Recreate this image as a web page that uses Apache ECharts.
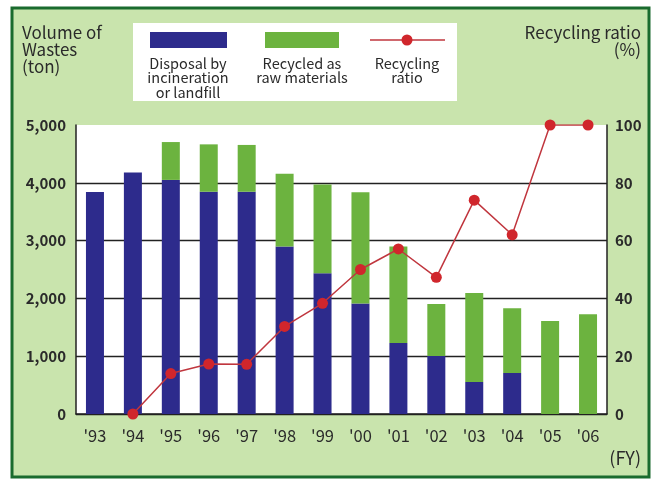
<!DOCTYPE html>
<html><head><meta charset="utf-8">
<script src="https://cdn.jsdelivr.net/npm/echarts@6/dist/echarts.min.js"></script>
<style>html,body{margin:0;padding:0;background:#fff}#c{width:653px;height:479px}</style>
</head><body><div id="c"></div>
<script>
const years = ["'93","'94","'95","'96","'97","'98","'99","'00","'01","'02","'03","'04","'05","'06"];
const disposal = [3840,4180,4050,3845,3845,2900,2435,1910,1230,1005,555,710,0,0];
const recycled = [0,0,655,820,810,1255,1535,1925,1670,900,1540,1120,1610,1725];
const ratio = [null,0,14,17.3,17.2,30.3,38.3,50,57.1,47.3,74,62,100,100];
const leftTicks = [0,1000,2000,3000,4000,5000];
const rightTicks = [0,20,40,60,80,100];
const seriesNames = ['Disposal by\nincineration\nor landfill','Recycled as\nraw materials','Recycling\nratio'];

const BLUE = '#2d2b8c', GREEN = '#6cb33f', RED = '#d0262c', LINE = '#c0363e';
const FONT = "'Noto Sans CJK JP','Noto Sans',sans-serif";
const TXT = '#2a2a2a';

const chart = echarts.init(document.getElementById('c'));
chart.setOption({
  animation: false,
  textStyle: {fontFamily: FONT},
  graphic: [
    {type:'rect', z:-10, shape:{x:12,y:8,width:637,height:469}, style:{fill:'#c9e4ad', stroke:'#1a6b2e', lineWidth:3}},
    {type:'rect', z:-5, shape:{x:133,y:23,width:324,height:78}, style:{fill:'#ffffff'}},
    {type:'rect', shape:{x:150,y:32,width:77,height:16}, style:{fill:BLUE}},
    {type:'rect', shape:{x:265,y:32,width:74,height:16}, style:{fill:GREEN}},
    {type:'line', shape:{x1:370,y1:40,x2:445,y2:40}, style:{stroke:LINE, lineWidth:1.5}},
    {type:'circle', shape:{cx:407,cy:40,r:5.5}, style:{fill:RED}},
    {type:'text', style:{x:188,y:56,text:seriesNames[0],fill:TXT,font:"14.5px "+FONT,textAlign:'center',lineHeight:14.5}},
    {type:'text', style:{x:302,y:56,text:seriesNames[1],fill:TXT,font:"14.5px "+FONT,textAlign:'center',lineHeight:14.5}},
    {type:'text', style:{x:407,y:56,text:seriesNames[2],fill:TXT,font:"14.5px "+FONT,textAlign:'center',lineHeight:14.5}},
    {type:'text', style:{x:22,y:24,text:'Volume of\nWastes\n(ton)',fill:TXT,font:"17px "+FONT,lineHeight:17}},
    {type:'text', style:{x:641,y:24,text:'Recycling ratio\n(%)',fill:TXT,font:"17px "+FONT,textAlign:'right',lineHeight:17}},
    {type:'text', style:{x:641,y:449,text:'(FY)',fill:TXT,font:"18px "+FONT,textAlign:'right'}}
  ],
  grid: {left:76, right:46, top:125, bottom:65, show:true, backgroundColor:'#ffffff', borderWidth:0},
  xAxis: {
    type:'category', data: years,
    axisLine:{lineStyle:{color:'#222', width:1.5}},
    axisTick:{show:false},
    axisLabel:{color:TXT, fontSize:16.5, margin:13, fontFamily:FONT}
  },
  yAxis: [
    {type:'value', min:0, max:5000, interval:1000,
     axisLine:{show:true, lineStyle:{color:'#222', width:1.5}},
     axisTick:{show:false},
     axisLabel:{color:TXT, fontSize:15, fontWeight:'bold', margin:10, fontFamily:FONT,
       formatter: v => leftTicks.includes(v) ? v.toLocaleString('en-US') : ''},
     splitLine:{lineStyle:{color:['#222','#222','#222','#222','#222','rgba(0,0,0,0)'], width:1.3}}},
    {type:'value', min:0, max:100, interval:20,
     axisLine:{show:true, lineStyle:{color:'#222', width:1.5}},
     axisTick:{show:false},
     axisLabel:{color:TXT, fontSize:15, fontWeight:'bold', margin:8, fontFamily:FONT,
       formatter: v => rightTicks.includes(v) ? String(v) : ''},
     splitLine:{show:false}}
  ],
  series: [
    {name:seriesNames[0], type:'bar', stack:'w', data:disposal, barWidth:18, itemStyle:{color:BLUE}},
    {name:seriesNames[1], type:'bar', stack:'w', data:recycled, barWidth:18, itemStyle:{color:GREEN}},
    {name:seriesNames[2], type:'line', yAxisIndex:1, data:ratio, symbol:'circle', symbolSize:11,
     lineStyle:{color:LINE, width:1.5}, itemStyle:{color:RED}, z:5}
  ]
});
</script></body></html>
